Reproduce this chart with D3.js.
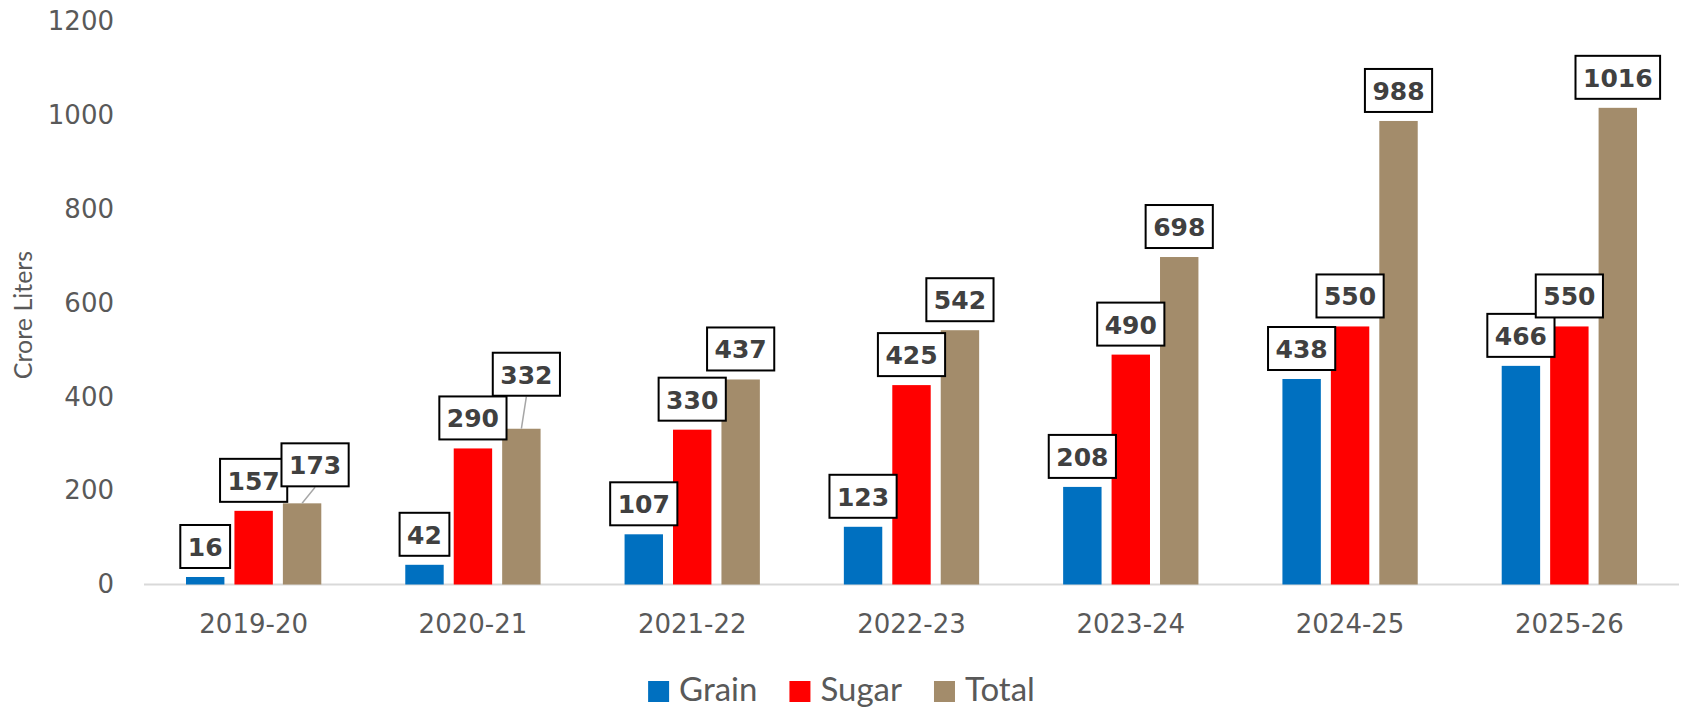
<!DOCTYPE html>
<html>
<head>
<meta charset="utf-8">
<script src="https://cdn.jsdelivr.net/npm/d3@7"></script>
<style>
  body { margin: 0; background: #fff; }
  svg { display: block; }
</style>
</head>
<body>
<svg width="1683" height="709"></svg>
<script>
// data
var years = ["2019-20", "2020-21", "2021-22", "2022-23", "2023-24", "2024-25", "2025-26"];
var seriesNames = ["Grain", "Sugar", "Total"];
var grain = [16, 42, 107, 123, 208, 438, 466];
var sugar = [157, 290, 330, 425, 490, 550, 550];
var total = [173, 332, 437, 542, 698, 988, 1016];
var yTicks = [0, 200, 400, 600, 800, 1000, 1200];
var colors = ["#0070c0", "#ff0000", "#a38c6b"];

// labels that were dragged off their bar (series, year index, dx, dy)
var labelNudge = [
  { s: 2, i: 0, dx: 13, dy: -8 },
  { s: 2, i: 1, dx: 5, dy: -24 }
];

var svg = d3.select("svg"),
    width = +svg.attr("width"),
    height = +svg.attr("height");

var values = [grain, sugar, total];

var x0 = d3.scaleBand()
    .domain(years)
    .range([144, 1679])
    .paddingInner(0.383)
    .paddingOuter(0.1915);

var x1 = d3.scaleBand()
    .domain(seriesNames)
    .range([0, x0.bandwidth()])
    .paddingInner(0.207);

var y = d3.scaleLinear()
    .domain([0, 1200])
    .range([584.5, 21.5]);

// y axis labels (no line, no grid)
var yAxis = svg.append("g")
    .attr("transform", "translate(114,0)")
    .call(d3.axisLeft(y).tickValues(yTicks).tickFormat(d3.format("d")).tickSize(0).tickPadding(0));
yAxis.select(".domain").remove();
yAxis.selectAll("text")
    .attr("fill", "#595959")
    .style("font-family", "DejaVu Sans")
    .style("font-size", "26px");

// baseline
svg.append("line")
    .attr("x1", x0.range()[0])
    .attr("x2", x0.range()[1])
    .attr("y1", y(0))
    .attr("y2", y(0))
    .attr("stroke", "#d9d9d9")
    .attr("stroke-width", 2);

// x axis labels
var xAxis = svg.append("g")
    .attr("transform", "translate(0," + y(0) + ")")
    .call(d3.axisBottom(x0).tickSize(0).tickPadding(30));
xAxis.select(".domain").remove();
xAxis.selectAll("text")
    .attr("fill", "#595959")
    .style("font-family", "DejaVu Sans")
    .style("font-size", "26px");

// bars
var rows = [];
years.forEach(function (yr, i) {
  seriesNames.forEach(function (s, k) {
    rows.push({ year: yr, i: i, s: k, name: s, v: values[k][i] });
  });
});

svg.append("g")
    .selectAll("rect")
    .data(rows)
    .enter()
    .append("rect")
    .attr("x", function (d) { return x0(d.year) + x1(d.name); })
    .attr("y", function (d) { return y(d.v); })
    .attr("width", x1.bandwidth())
    .attr("height", function (d) { return y(0) - y(d.v); })
    .attr("fill", function (d) { return colors[d.s]; });

// data labels in boxes
var boxH = 45, gap = 8;
var lab = svg.append("g");
rows.forEach(function (d) {
  var cx = x0(d.year) + x1(d.name) + x1.bandwidth() / 2;
  var top = y(d.v);
  var nudge = labelNudge.find(function (n) { return n.s === d.s && n.i === d.i; });
  var dx = nudge ? nudge.dx : 0, dy = nudge ? nudge.dy : 0;
  var bx = cx + dx, bottom = top - gap + dy;

  if (nudge) {
    lab.append("line")
        .attr("x1", bx).attr("y1", bottom)
        .attr("x2", cx).attr("y2", top)
        .attr("stroke", "#a6a6a6")
        .attr("stroke-width", 1.5);
  }
  var box = lab.append("rect");
  var t = lab.append("text")
      .attr("x", bx)
      .attr("y", bottom - 13)
      .attr("text-anchor", "middle")
      .attr("fill", "#404040")
      .style("font-family", "DejaVu Sans")
      .style("font-weight", "bold")
      .style("font-size", "25px")
      .text(d.v);
  var w = t.node().getComputedTextLength() + 15;
  box.attr("x", bx - w / 2)
      .attr("y", bottom - boxH + 1)
      .attr("width", w)
      .attr("height", boxH - 2)
      .attr("fill", "#fff")
      .attr("stroke", "#000")
      .attr("stroke-width", 2);
});

// axis title
svg.append("text")
    .attr("transform", "translate(32,315) rotate(-90)")
    .attr("text-anchor", "middle")
    .attr("fill", "#595959")
    .style("font-family", "Lato")
    .style("font-size", "25px")
    .text("Crore Liters");

// legend
var legend = svg.append("g");
var lx = 0;
seriesNames.forEach(function (s, k) {
  legend.append("rect")
      .attr("x", lx).attr("y", 681)
      .attr("width", 21).attr("height", 21)
      .attr("fill", colors[k]);
  var t = legend.append("text")
      .attr("x", lx + 31)
      .attr("y", 701)
      .attr("fill", "#595959")
      .style("font-family", "Lato")
      .style("font-size", "33px")
      .text(s);
  lx += 31 + t.node().getComputedTextLength() + 32;
});
lx -= 32;
legend.attr("transform", "translate(" + (width / 2 - lx / 2) + ",0)");
</script>
</body>
</html>
